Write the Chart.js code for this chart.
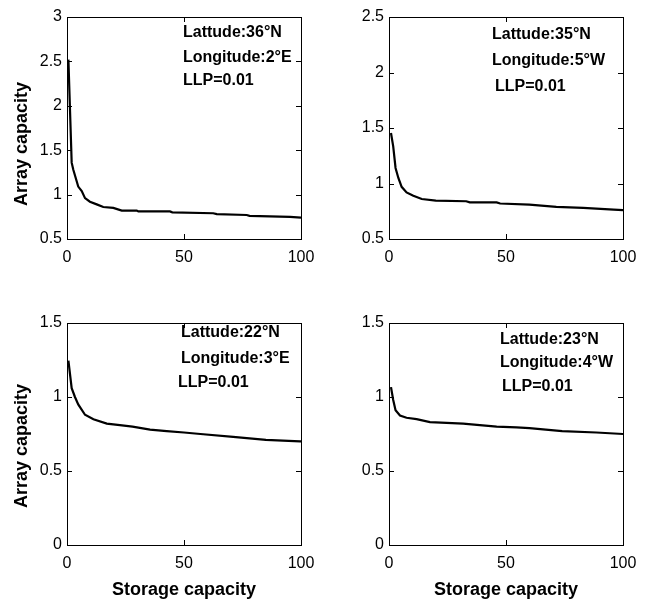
<!DOCTYPE html>
<html>
<head>
<meta charset="utf-8">
<script src="https://cdn.jsdelivr.net/npm/chart.js@4.4.1/dist/chart.umd.min.js"></script>
<style>
  html, body { margin: 0; padding: 0; background: #fff; }
  #wrap { position: relative; width: 653px; height: 603px; }
  canvas { position: absolute; }
</style>
</head>
<body>
<div id="wrap">
  <canvas id="c1" style="left:0;top:0" width="326" height="300"></canvas>
  <canvas id="c2" style="left:326px;top:0" width="327" height="300"></canvas>
  <canvas id="c3" style="left:0;top:300px" width="326" height="303"></canvas>
  <canvas id="c4" style="left:326px;top:300px" width="327" height="303"></canvas>
</div>
<script>
// Storage capacity (x) and array capacity (y)
const storage1 = [0.6, 2, 2.7, 4.8, 6.3, 7.7, 9.8, 12.7, 15.5, 19.8, 23.4, 29.8, 30.5, 44, 45, 62.5, 64, 76.8, 78, 95.3, 100];
const array1   = [2.52, 1.36, 1.28, 1.09, 1.04, 0.96, 0.92, 0.89, 0.86, 0.85, 0.82, 0.82, 0.81, 0.81, 0.80, 0.79, 0.78, 0.77, 0.76, 0.75, 0.74];

const storage2 = [0.85, 1.8, 2.8, 4, 5.4, 7.5, 10.4, 14, 20, 33, 34.5, 46, 47.5, 60, 71.5, 83, 96, 100];
const array2   = [1.455, 1.335, 1.14, 1.05, 0.97, 0.92, 0.89, 0.86, 0.845, 0.84, 0.83, 0.83, 0.82, 0.81, 0.79, 0.78, 0.765, 0.76];

const storage3 = [0.6, 2, 3.4, 4.8, 7.7, 11.3, 17, 22.6, 28, 35.5, 42.6, 50, 57, 71, 85, 99.6, 100];
const array3   = [1.245, 1.06, 1.0, 0.95, 0.88, 0.85, 0.82, 0.81, 0.80, 0.78, 0.77, 0.76, 0.75, 0.73, 0.71, 0.70, 0.70];

const storage4 = [0.85, 1.8, 2.8, 4.7, 7.5, 11.8, 17.5, 24.6, 31.7, 38.8, 46, 54.5, 60, 74, 88.6, 100];
const array4   = [1.067, 0.98, 0.91, 0.875, 0.86, 0.85, 0.83, 0.825, 0.82, 0.81, 0.80, 0.795, 0.79, 0.77, 0.76, 0.75];

const notes1 = ['Lattude:36°N', 'Longitude:2°E', 'LLP=0.01'];
const notes2 = ['Lattude:35°N', 'Longitude:5°W', 'LLP=0.01'];
const notes3 = ['Lattude:22°N', 'Longitude:3°E', 'LLP=0.01'];
const notes4 = ['Lattude:23°N', 'Longitude:4°W', 'LLP=0.01'];

const yTitle = 'Array capacity';
const xTitle = 'Storage capacity';

const FONT = '"Liberation Sans", Arial, sans-serif';

// Khung + vạch chia hướng vào trong kiểu MATLAB
const boxPlugin = {
    id: 'box',
    afterDraw(chart) {
        const ctx = chart.ctx;
        const a = chart.chartArea;
        const xs = chart.scales.x, ys = chart.scales.y;
        ctx.save();
        ctx.strokeStyle = '#000';
        ctx.lineWidth = 1;
        ctx.strokeRect(Math.round(a.left) + 0.5, Math.round(a.top) + 0.5,
            Math.round(a.right - a.left), Math.round(a.bottom - a.top));
        const len = 5;
        ctx.beginPath();
        xs.ticks.forEach(t => {
            const px = Math.round(xs.getPixelForValue(t.value)) + 0.5;
            ctx.moveTo(px, a.bottom); ctx.lineTo(px, a.bottom - len);
            ctx.moveTo(px, a.top); ctx.lineTo(px, a.top + len);
        });
        ys.ticks.forEach(t => {
            const py = Math.round(ys.getPixelForValue(t.value)) + 0.5;
            ctx.moveTo(a.left, py); ctx.lineTo(a.left + len, py);
            ctx.moveTo(a.right, py); ctx.lineTo(a.right - len, py);
        });
        ctx.stroke();
        const n = chart.options.plugins.box;
        ctx.fillStyle = '#000';
        // tên trục tung (lệch xuống như hình gốc)
        if (n.yTitleAt) {
            ctx.save();
            ctx.translate(n.yTitleAt[0], n.yTitleAt[1]);
            ctx.rotate(-Math.PI / 2);
            ctx.font = 'bold 18px ' + FONT;
            ctx.textAlign = 'center';
            ctx.textBaseline = 'middle';
            ctx.fillText(yTitle, 0, 0);
            ctx.restore();
        }
        // chú thích
        ctx.font = 'bold 16px ' + FONT;
        ctx.textBaseline = 'middle';
        n.lines.forEach((txt, i) => {
            ctx.fillText(txt, n.pos[i][0], n.pos[i][1]);
        });
        ctx.restore();
    }
};

function createPanel(id, xs, ys, yMax, cfg) {
    const pts = xs.map((x, i) => ({ x: x, y: ys[i] }));
    return new Chart(document.getElementById(id), {
        type: 'line',
        data: {
            datasets: [{
                data: pts,
                borderColor: '#000',
                borderWidth: 2.2,
                pointRadius: 0,
                tension: 0,
                fill: false
            }]
        },
        options: {
            responsive: false,
            animation: false,
            layout: { padding: { top: cfg.top, right: cfg.right, left: 0, bottom: 0 } },
            plugins: {
                legend: { display: false },
                tooltip: { enabled: false },
                box: { lines: cfg.notes, pos: cfg.pos, yTitleAt: cfg.yTitleAt }
            },
            scales: {
                x: {
                    type: 'linear',
                    min: 0, max: 100,
                    afterFit: s => { s.height = cfg.xh; },
                    grid: { display: false, drawTicks: false },
                    border: { display: false },
                    ticks: {
                        stepSize: 50, padding: 9, color: '#000',
                        font: { size: 16, family: FONT }
                    },
                    title: {
                        display: cfg.xTitle, text: xTitle, color: '#000',
                        padding: { top: 0, bottom: 2 },
                        font: { size: 18, weight: 'bold', family: FONT }
                    }
                },
                y: {
                    min: cfg.yMin, max: yMax,
                    afterFit: s => { s.width = cfg.yw; },
                    grid: { display: false, drawTicks: false },
                    border: { display: false },
                    ticks: {
                        stepSize: 0.5, padding: 5, color: '#000',
                        font: { size: 16, family: FONT },
                        callback: v => String(v)
                    }
                }
            }
        },
        plugins: [boxPlugin]
    });
}

createPanel('c1', storage1, array1, 3, {
    yMin: 0.5, top: 17, right: 25, xh: 61, yw: 67, xTitle: false, yTitleAt: [22, 144],
    notes: notes1, pos: [[183, 33], [183, 58], [183, 81]]
});
createPanel('c2', storage2, array2, 2.5, {
    yMin: 0.5, top: 17, right: 30, xh: 61, yw: 63, xTitle: false, yTitleAt: null,
    notes: notes2, pos: [[166, 35], [166, 61], [169, 87]]
});
createPanel('c3', storage3, array3, 1.5, {
    yMin: 0, top: 23, right: 25, xh: 58, yw: 67, xTitle: true, yTitleAt: [22, 146],
    notes: notes3, pos: [[181, 33], [181, 59], [178, 83]]
});
createPanel('c4', storage4, array4, 1.5, {
    yMin: 0, top: 23, right: 30, xh: 58, yw: 63, xTitle: true, yTitleAt: null,
    notes: notes4, pos: [[174, 40], [174, 63], [176, 87]]
});
</script>
</body>
</html>
